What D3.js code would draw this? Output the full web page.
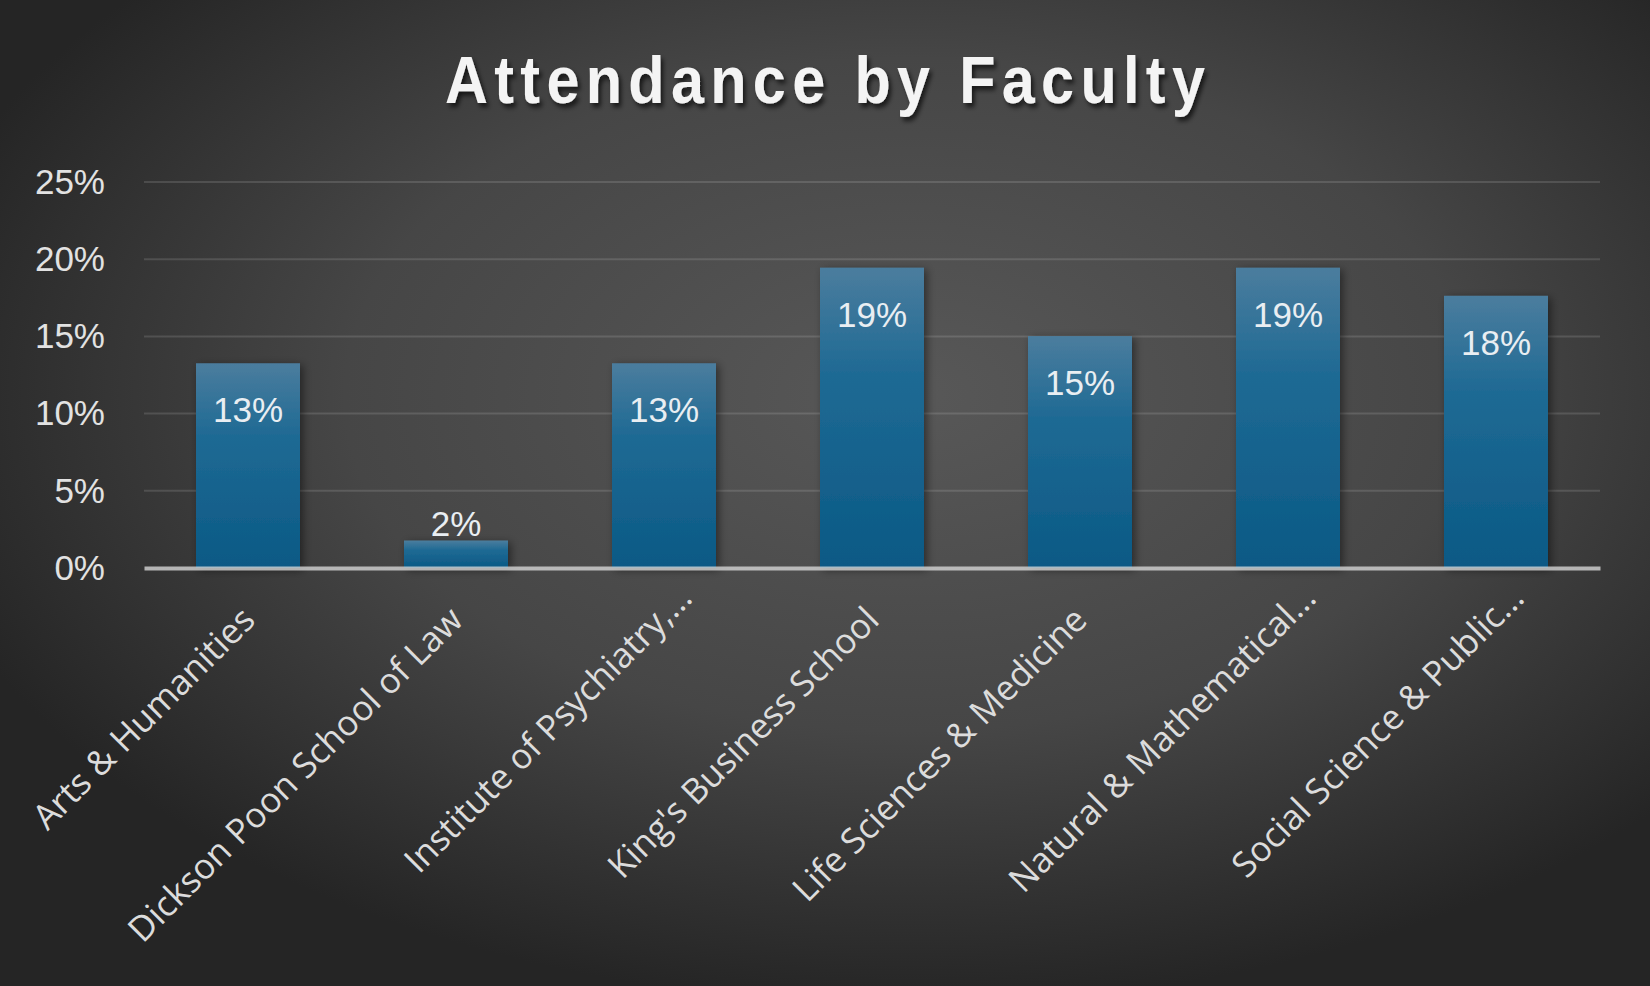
<!DOCTYPE html>
<html>
<head>
<meta charset="utf-8">
<script src="https://cdn.jsdelivr.net/npm/d3@7"></script>
<style>
  html, body { margin: 0; padding: 0; background: #2b2b2b; }
  svg { display: block; }
</style>
</head>
<body>
<div id="chart"></div>
<script>
// Chart data
const faculties = [
  "Arts & Humanities",
  "Dickson Poon School of Law",
  "Institute of Psychiatry,...",
  "King's Business School",
  "Life Sciences & Medicine",
  "Natural & Mathematical...",
  "Social Science & Public..."
];
const attendance = [0.1326, 0.0178, 0.1326, 0.1945, 0.1502, 0.1945, 0.1763];
const yTicks = [0, 0.05, 0.10, 0.15, 0.20, 0.25];
const chartTitle = "Attendance by Faculty";

const data = faculties.map((name, i) => ({ name, value: attendance[i] }));

// Declare the chart dimensions and margins.
const width = 1650;
const height = 986;
const marginTop = 182;
const marginRight = 50;
const marginBottom = 418;
const marginLeft = 144;

const svg = d3.select("#chart")
  .append("svg")
    .attr("width", width)
    .attr("height", height)
    .attr("viewBox", [0, 0, width, height]);

const defs = svg.append("defs");

// background: dark radial glow
const bg = defs.append("radialGradient")
    .attr("id", "bg")
    .attr("cx", "55%").attr("cy", "40%").attr("r", "62%");
bg.append("stop").attr("offset", "0%").attr("stop-color", "#585858");
bg.append("stop").attr("offset", "55%").attr("stop-color", "#464646");
bg.append("stop").attr("offset", "100%").attr("stop-color", "#252525");

// bar fill: lighter at the top
const barGrad = defs.append("linearGradient")
    .attr("id", "bar")
    .attr("x1", 0).attr("y1", 0).attr("x2", 0).attr("y2", 1);
barGrad.append("stop").attr("offset", "0%").attr("stop-color", "#4b7d9e");
barGrad.append("stop").attr("offset", "35%").attr("stop-color", "#1f6a94");
barGrad.append("stop").attr("offset", "100%").attr("stop-color", "#0a5985");

const barShadow = defs.append("filter").attr("id", "barShadow")
    .attr("x", "-20%").attr("y", "-10%").attr("width", "150%").attr("height", "130%");
barShadow.append("feDropShadow")
    .attr("dx", 3).attr("dy", 2).attr("stdDeviation", 4)
    .attr("flood-color", "#000").attr("flood-opacity", 0.45);

const titleShadow = defs.append("filter").attr("id", "titleShadow")
    .attr("x", "-10%").attr("y", "-30%").attr("width", "120%").attr("height", "160%");
titleShadow.append("feDropShadow")
    .attr("dx", 3).attr("dy", 4).attr("stdDeviation", 2.5)
    .attr("flood-color", "#000").attr("flood-opacity", 0.65);

svg.append("rect")
    .attr("width", width)
    .attr("height", height)
    .attr("fill", "url(#bg)");

// Title: condensed bold with wide tracking (squeezed horizontally)
const squeeze = 0.9;
svg.append("text")
    .attr("transform", `translate(${width / 2},103) scale(${squeeze},1)`)
    .attr("text-anchor", "middle")
    .attr("textLength", 760 / squeeze)
    .attr("lengthAdjust", "spacing")
    .attr("fill", "#f4f4f4")
    .attr("filter", "url(#titleShadow)")
    .style("font-family", "'Liberation Sans', Arial, sans-serif")
    .style("font-weight", "bold")
    .style("font-size", "66px")
    .text(chartTitle);

// Scales
const x = d3.scaleBand()
    .domain(faculties)
    .range([marginLeft, width - marginRight])
    .paddingInner(0.5)
    .paddingOuter(0.25);

const y = d3.scaleLinear()
    .domain([0, 0.25])
    .range([height - marginBottom, marginTop]);

// Gridlines
svg.append("g")
    .selectAll("line")
    .data(yTicks.filter(d => d > 0))
    .join("line")
      .attr("x1", marginLeft)
      .attr("x2", width - marginRight)
      .attr("y1", d => y(d))
      .attr("y2", d => y(d))
      .attr("stroke", "#ffffff")
      .attr("stroke-opacity", 0.13)
      .attr("stroke-width", 2);

// Y axis labels
svg.append("g")
    .attr("transform", `translate(${marginLeft},0)`)
    .call(d3.axisLeft(y).tickValues(yTicks).tickFormat(d3.format(".0%")).tickSize(0).tickPadding(39))
    .call(g => g.select(".domain").remove())
    .call(g => g.selectAll("text")
        .attr("fill", "#e2e2e2")
        .style("font-family", "'Liberation Sans', Arial, sans-serif")
        .style("font-size", "35px"));

// Bars
svg.append("g")
    .attr("filter", "url(#barShadow)")
  .selectAll("rect")
  .data(data)
  .join("rect")
    .attr("x", d => x(d.name))
    .attr("y", d => y(d.value))
    .attr("width", x.bandwidth())
    .attr("height", d => y(0) - y(d.value))
    .attr("fill", "url(#bar)");

// Value labels: inside the top of the bar, or above it when the bar is short
const pct = d3.format(".0%");
svg.append("g")
  .selectAll("text")
  .data(data)
  .join("text")
    .attr("x", d => x(d.name) + x.bandwidth() / 2)
    .attr("y", d => (y(0) - y(d.value)) > 80 ? y(d.value) + 59 : y(d.value) - 5)
    .attr("text-anchor", "middle")
    .attr("fill", "#e9eef2")
    .style("font-family", "'Liberation Sans', Arial, sans-serif")
    .style("font-size", "35px")
    .text(d => pct(d.value));

// X axis with rotated category labels; truncated names run a little further
svg.append("g")
    .attr("transform", `translate(0,${y(0)})`)
    .call(d3.axisBottom(x).tickSize(0).tickSizeOuter(0).tickPadding(0))
    .call(g => g.select(".domain")
        .attr("stroke", "#d9d9d9")
        .attr("stroke-opacity", 0.78)
        .attr("stroke-width", 4))
    .call(g => g.selectAll(".tick text")
        .attr("y", 0)
        .attr("dy", 0)
        .attr("transform", d => d.endsWith("...")
            ? "translate(30,32) rotate(-45)"
            : "translate(9,54) rotate(-45)")
        .attr("text-anchor", "end")
        .attr("fill", "#dcdcdc")
        .style("font-family", "'Open Sans', 'Noto Sans', sans-serif")
        .style("font-size", "35px"));
</script>
</body>
</html>
